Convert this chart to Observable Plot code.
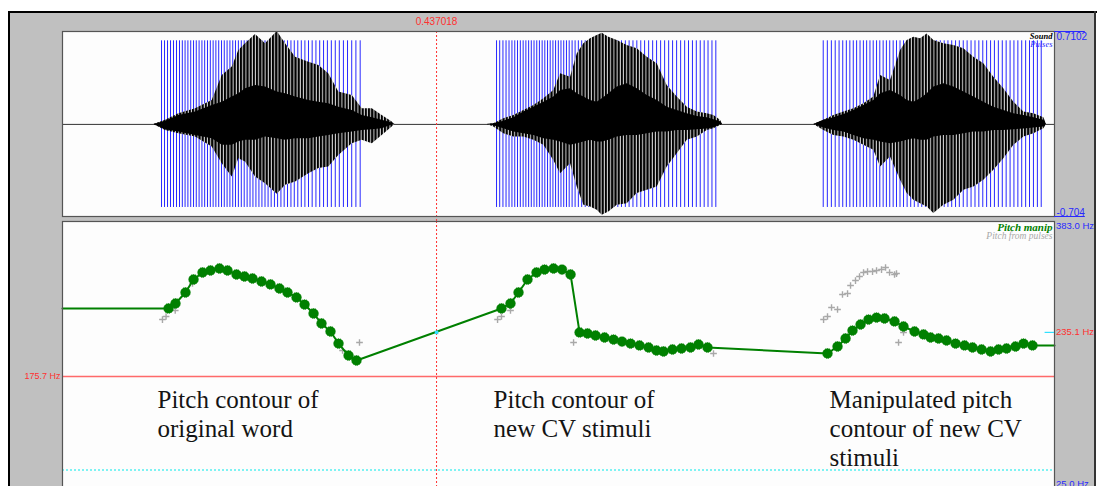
<!DOCTYPE html>
<html><head><meta charset="utf-8">
<script src="https://cdn.jsdelivr.net/npm/d3@7"></script>
<script src="https://cdn.jsdelivr.net/npm/@observablehq/plot@0.6"></script>
<style>
html,body{margin:0;padding:0;background:#fff;overflow:hidden;}
#wrap{position:relative;width:1097px;height:486px;overflow:hidden;background:#fff;}
.blk{position:absolute;background:#000;}
#gray{position:absolute;left:10px;top:13px;width:1084px;height:473px;background:#c0c0c0;}
#top,#bot{position:absolute;left:0;}
#top{top:0px;}
#bot{top:216px;}
</style></head><body>
<svg width="0" height="0" style="position:absolute"><defs>
<pattern id="spikes" patternUnits="userSpaceOnUse" width="3.2" height="8">
<rect width="3.2" height="8" fill="#dcdcdc"/><rect width="2.2" height="8" fill="#000"/>
</pattern></defs></svg>
<div id="wrap">
 <div id="gray"></div>
 <div class="blk" style="left:8px;top:11px;width:1089px;height:2px"></div>
 <div class="blk" style="left:8px;top:11px;width:2px;height:475px"></div>
 <div class="blk" style="left:1094px;top:11px;width:2px;height:475px;background:#333"></div>
 <div id="top"></div><div id="bot"></div>
</div>
<script>
// ---------- data ----------
const timeDomainMs = [0, 1159];
const ampDomain = [-0.704, 0.7102];
const ampLabels = ["-0.704", "0.7102"];
const pitchDomainHz = [25, 383];
const pitchLabels = ["25.0 Hz", "383.0 Hz"];
const cursorTimeMs = 437.018;
const cursorLabel = "0.437018";
const cursorPitchHz = 235.1;
const cursorPitchLabel = "235.1 Hz";
const referenceHz = 175.7;
const referenceLabel = "175.7 Hz";
const floorHz = 50;

// glottal pulses (ms)
const pulses1 = [115.7,119.2,122.7,126.2,129.7,133.2,136.7,140.0,143.2,146.5,149.8,153.1,156.3,159.6,162.9,166.1,169.4,172.7,176.0,179.2,182.5,185.8,189.0,192.3,195.6,198.9,202.1,205.5,208.9,212.3,215.7,219.1,222.5,226.0,229.5,233.0,236.6,240.2,243.8,247.6,251.3,255.2,259.0,262.9,266.9,270.8,274.9,279.0,283.2,287.4,291.7,296.1,300.5,305.0,309.5,314.1,318.7,323.4,328.2,333.0,337.9,342.8,347.8];
const pulses2 = [507.1,510.8,514.6,518.2,521.7,525.1,528.4,531.6,534.9,538.2,541.4,544.6,547.7,550.9,554.1,557.2,560.4,563.5,566.7,569.8,573.0,576.1,579.3,582.4,585.6,588.8,592.0,595.4,598.9,602.7,606.6,610.7,614.8,619.0,623.2,627.4,631.6,635.8,640.2,644.5,648.8,653.1,657.6,662.0,666.5,671.0,675.6,680.1,684.8,689.5,694.1,698.8,703.5,708.2,712.8,717.5,722.2,726.9,731.4,736.0,740.5,745.1,749.7,754.2,758.8,763.3];
const pulses3 = [888.8,893.6,898.3,902.8,907.3,911.6,915.8,919.9,923.9,927.8,931.8,935.7,939.5,943.4,947.2,951.1,954.9,958.8,962.6,966.5,970.5,974.4,978.5,982.6,986.8,991.0,995.2,999.6,1003.9,1008.2,1012.5,1016.9,1021.2,1025.6,1030.1,1034.5,1038.9,1043.4,1047.8,1052.4,1056.9,1061.5,1066.1,1070.6,1075.2,1079.7,1084.3,1088.8,1093.4,1098.0,1102.5,1107.1,1111.6,1116.2,1120.7,1125.3,1129.8,1134.4,1139.0,1143.5];

// waveform envelopes (time ms, amplitude)
const wave1Time    = [106.7,120.3,135.9,155.4,174.9,186.6,198.3,206.0,213.8,225.5,237.2,250.9,260.6,272.3,287.8,299.5,311.1,322.8,338.5,350.2,361.9,373.5,385.2,388.3];
const wave1Max     = [0,0.031,0.081,0.120,0.183,0.374,0.438,0.565,0.616,0.687,0.616,0.710,0.616,0.514,0.476,0.450,0.387,0.247,0.221,0.120,0.120,0.069,0.018,0];
const wave1Min     = [0,-0.046,-0.071,-0.097,-0.173,-0.300,-0.402,-0.262,-0.288,-0.402,-0.453,-0.534,-0.466,-0.440,-0.377,-0.338,-0.326,-0.237,-0.148,-0.122,-0.148,-0.084,-0.020,0];
const wave1CoreMax = [0,0.025,0.069,0.094,0.145,0.170,0.209,0.234,0.272,0.298,0.285,0.247,0.234,0.209,0.183,0.170,0.158,0.132,0.107,0.069,0.051,0.031,0.010,0];
const wave1CoreMin = [0,-0.041,-0.059,-0.084,-0.109,-0.160,-0.160,-0.135,-0.122,-0.122,-0.097,-0.109,-0.122,-0.109,-0.109,-0.097,-0.084,-0.071,-0.059,-0.046,-0.041,-0.033,-0.005,0];

const wave2Time    = [496.2,503.9,515.6,527.3,539.0,550.7,562.4,574.0,581.9,593.6,601.4,609.1,616.9,624.7,630.6,638.3,648.1,659.8,671.5,683.2,694.8,706.5,718.2,729.9,741.6,753.3,761.0,768.8,771.1];
const wave2Max     = [0,0.005,0.043,0.069,0.107,0.145,0.196,0.260,0.387,0.361,0.539,0.616,0.654,0.679,0.697,0.667,0.641,0.603,0.578,0.514,0.463,0.298,0.209,0.132,0.094,0.081,0.069,0.031,0];
const wave2Min     = [0,-0.020,-0.071,-0.097,-0.097,-0.122,-0.160,-0.275,-0.377,-0.300,-0.478,-0.618,-0.631,-0.656,-0.695,-0.669,-0.618,-0.606,-0.529,-0.504,-0.478,-0.326,-0.224,-0.122,-0.097,-0.046,-0.033,-0.008,0];
const wave2CoreMax = [0,0.005,0.025,0.051,0.094,0.132,0.170,0.209,0.260,0.272,0.234,0.209,0.183,0.170,0.196,0.234,0.285,0.310,0.272,0.221,0.183,0.132,0.107,0.081,0.061,0.051,0.036,0.020,0];
const wave2CoreMin = [0,-0.010,-0.033,-0.059,-0.071,-0.084,-0.109,-0.122,-0.135,-0.160,-0.148,-0.135,-0.122,-0.135,-0.135,-0.122,-0.097,-0.084,-0.084,-0.071,-0.059,-0.059,-0.046,-0.046,-0.041,-0.036,-0.025,-0.005,0];

const wave3Time    = [877.8,889.5,901.2,912.9,924.6,936.3,947.9,955.8,967.4,979.1,986.9,994.7,1002.5,1010.3,1018.0,1029.7,1041.4,1053.1,1064.8,1076.4,1088.1,1099.8,1111.5,1123.2,1134.9,1146.6,1149.7];
const wave3Max     = [0,0.031,0.069,0.094,0.120,0.158,0.209,0.374,0.336,0.565,0.641,0.667,0.654,0.692,0.641,0.616,0.603,0.578,0.514,0.463,0.361,0.272,0.170,0.094,0.081,0.051,0];
const wave3Min     = [0,-0.046,-0.084,-0.097,-0.122,-0.160,-0.198,-0.326,-0.249,-0.427,-0.529,-0.580,-0.606,-0.631,-0.682,-0.618,-0.580,-0.504,-0.478,-0.427,-0.351,-0.262,-0.160,-0.097,-0.071,-0.033,0];
const wave3CoreMax = [0,0.031,0.051,0.076,0.107,0.145,0.183,0.234,0.260,0.221,0.183,0.170,0.196,0.234,0.285,0.310,0.285,0.247,0.209,0.170,0.132,0.107,0.081,0.069,0.051,0.031,0];
const wave3CoreMin = [0,-0.028,-0.046,-0.059,-0.084,-0.109,-0.122,-0.135,-0.148,-0.135,-0.122,-0.109,-0.122,-0.122,-0.097,-0.084,-0.084,-0.071,-0.059,-0.059,-0.046,-0.046,-0.041,-0.036,-0.028,-0.020,0];

// pitch manipulation points (ms, Hz)
const manipTime = [123.9,132.0,143.7,153.1,163.6,172.9,183.4,192.8,203.3,212.6,222.0,232.5,243.0,253.5,262.9,273.4,282.8,293.3,302.6,313.1,322.5,334.2,343.5,
  512.9,523.4,532.8,543.3,553.8,563.2,573.7,583.6,593.6,604.1,613.4,622.8,633.3,643.8,653.7,663.7,674.2,684.7,694.0,702.2,712.7,723.2,733.8,743.1,753.6,
  893.8,905.5,914.9,923.0,932.4,941.7,951.1,960.4,972.1,982.6,995.5,1006.0,1014.2,1023.5,1032.9,1043.4,1053.9,1063.2,1073.8,1084.3,1093.6,1103.0,1113.5,1122.8,1133.3];
const manipHz = [267.3,274.0,288.8,306.3,315.7,318.4,321.1,318.4,313.0,310.3,307.6,303.6,299.6,294.2,288.8,282.1,272.6,260.5,247.1,236.3,220.1,204.0,197.3,
  267.3,274.0,288.8,306.3,315.7,319.7,321.1,319.7,313.0,235.0,233.6,230.9,228.2,225.5,222.8,220.1,217.5,214.8,210.7,209.4,212.1,213.4,214.8,218.8,214.8,
  206.7,216.1,226.9,237.6,245.7,252.4,255.1,253.8,249.8,243.0,236.3,232.3,228.2,226.9,224.2,220.1,217.5,214.8,212.1,209.4,212.1,213.4,216.1,220.1,217.5];

// pitch from pulses (visible points)
const pulsePitchTime = [116.8,121.0,131.7,151.9,327.2,347.0,508.3,512.9,523.4,597.1,760.6,
  889.2,893.8,898.5,905.5,911.3,917.2,920.7,926.5,931.2,935.9,940.6,946.4,951.1,956.9,961.6,966.3,972.1,974.4,976.8,982.6];
const pulsePitchHz = [252.4,256.5,264.6,300.9,210.7,221.5,252.4,256.5,264.6,221.5,206.7,
  252.4,256.5,268.6,265.9,286.1,287.4,298.2,304.9,310.3,315.7,317.0,317.0,318.4,319.7,322.4,315.7,313.0,314.3,221.5,235.0];

// annotations
const annoTime = [111.0, 503.6, 896.2];
const annoText = ["Pitch contour of\noriginal word", "Pitch contour of\nnew CV stimuli", "Manipulated pitch\ncontour of new CV\nstimuli"];

// ---------- build ----------
const waveGroups = [
  [wave1Time, wave1Max, wave1Min, wave1CoreMax, wave1CoreMin],
  [wave2Time, wave2Max, wave2Min, wave2CoreMax, wave2CoreMin],
  [wave3Time, wave3Max, wave3Min, wave3CoreMax, wave3CoreMin]
];
const waveRows = [];
waveGroups.forEach((g, gi) => g[0].forEach((t, i) => waveRows.push({seg: gi, t, max: g[1][i], min: g[2][i], cmax: g[3][i], cmin: g[4][i]})));
const pulses = pulses1.concat(pulses2, pulses3);
const manip = manipTime.map((t, i) => ({t, f: manipHz[i]}));
const manipLine = [{t: timeDomainMs[0], f: manipHz[0]}, ...manip, {t: timeDomainMs[1], f: manipHz[manipHz.length - 1]}];
const pulsePitch = pulsePitchTime.map((t, i) => ({t, f: pulsePitchHz[i]}));
const annos = annoTime.map((t, i) => ({t, text: annoText[i]}));

const SANS = "Liberation Sans, Arial, sans-serif";
const SERIF = "Liberation Serif, Times New Roman, serif";
const RED = "#ff3030";
const BLUE = "#2828ff";
const GREEN = "#008000";
const xEnd = timeDomainMs[1];
const markLen = 36;

const topPlot = Plot.plot({
  width: 1097, height: 221,
  marginLeft: 62, marginRight: 43, marginTop: 31, marginBottom: 5,
  style: "background: transparent; overflow: visible;",
  x: {domain: timeDomainMs, axis: null},
  y: {domain: ampDomain, axis: null},
  marks: [
    Plot.frame({fill: "#fdfdfd"}),
    Plot.ruleY([0], {stroke: "#333", strokeWidth: 1}),
    Plot.ruleX(pulses, {y1: -0.635, y2: 0.639, stroke: BLUE, strokeWidth: 1}),
    Plot.areaY(waveRows, {x: "t", y1: "min", y2: "max", z: "seg", fill: "url(#spikes)"}),
    Plot.areaY(waveRows, {x: "t", y1: "cmin", y2: "cmax", z: "seg", fill: "#000"}),
    Plot.ruleX([cursorTimeMs], {y1: ampDomain[1], y2: -0.745, stroke: RED, strokeDasharray: "2,2"}),
    Plot.text([cursorLabel], {x: cursorTimeMs, frameAnchor: "top", dy: -7, lineAnchor: "bottom", fill: RED, fontSize: 10, fontFamily: SANS}),
    Plot.frame({stroke: "#555", strokeWidth: 1.2}),
    Plot.ruleY(ampDomain, {x1: xEnd, x2: xEnd + markLen, stroke: BLUE, strokeWidth: 1}),
    Plot.text([ampDomain[1]], {x: xEnd, y: d => d, text: () => ampLabels[1], textAnchor: "start", lineAnchor: "top", dx: 2, dy: 1, fill: BLUE, fontSize: 10, fontFamily: SANS}),
    Plot.text([ampDomain[0]], {x: xEnd, y: d => d, text: () => ampLabels[0], textAnchor: "start", lineAnchor: "bottom", dx: 2, dy: -1, fill: BLUE, fontSize: 10, fontFamily: SANS}),
    Plot.text(["Sound"], {frameAnchor: "top-right", lineAnchor: "middle", dx: -2, dy: 5, fill: "#000", fontSize: 8.5, fontStyle: "italic", fontWeight: "bold", fontFamily: SERIF}),
    Plot.text(["Pulses"], {frameAnchor: "top-right", lineAnchor: "middle", dx: -2, dy: 13, fill: BLUE, fontSize: 8.5, fontStyle: "italic", fontFamily: SERIF})
  ]
});
document.getElementById("top").appendChild(topPlot);

const botPlot = Plot.plot({
  width: 1097, height: 272,
  marginLeft: 62, marginRight: 43, marginTop: 6, marginBottom: 0,
  style: "background: transparent; overflow: visible;",
  x: {domain: timeDomainMs, axis: null},
  y: {domain: pitchDomainHz, axis: null},
  marks: [
    Plot.frame({fill: "#fdfdfd", insetTop: -1}),
    Plot.ruleY([floorHz], {stroke: "#55f0f0", strokeDasharray: "2,2", strokeWidth: 1.5}),
    Plot.ruleY([referenceHz], {stroke: "#ff6a6a", strokeWidth: 1.5}),
    Plot.ruleX([cursorTimeMs], {stroke: RED, strokeDasharray: "2,2", insetTop: -1}),
    Plot.dot(pulsePitch, {x: "t", y: "f", symbol: "plus", r: 2.3, stroke: "#a8a8a8", strokeWidth: 1.4}),
    Plot.line(manipLine, {x: "t", y: "f", stroke: GREEN, strokeWidth: 2}),
    Plot.dot(manip, {x: "t", y: "f", r: 4.9, fill: GREEN, stroke: GREEN, strokeWidth: 0.8, strokeDasharray: "1,1"}),
    Plot.dot([cursorPitchHz], {x: cursorTimeMs, y: d => d, symbol: "square", r: 2, fill: "#30e0ff"}),
    Plot.text(annos, {x: "t", y: 161, text: "text", textAnchor: "start", lineAnchor: "top", lineHeight: 1.16, fontSize: 25, fontFamily: SERIF, fill: "#141414"}),
    Plot.frame({stroke: "#555", strokeWidth: 1.2, insetTop: -1}),
    Plot.text([referenceHz], {x: timeDomainMs[0], y: d => d, text: () => referenceLabel, textAnchor: "end", dx: -2, fill: RED, fontSize: 9, fontFamily: SANS}),
    Plot.text([pitchDomainHz[1]], {x: xEnd, y: d => d, text: () => pitchLabels[1], textAnchor: "start", lineAnchor: "top", dx: 1.5, dy: 0, fill: BLUE, fontSize: 9.5, fontFamily: SANS}),
    Plot.text([pitchDomainHz[0]], {x: xEnd, y: d => d, text: () => pitchLabels[0], textAnchor: "start", lineAnchor: "bottom", dx: 1.5, dy: -2, fill: BLUE, fontSize: 9.5, fontFamily: SANS}),
    Plot.ruleY([cursorPitchHz], {x1: xEnd - 11, x2: xEnd, stroke: "#30e0ff", strokeWidth: 1.2}),
    Plot.text([cursorPitchHz], {x: xEnd, y: d => d, text: () => cursorPitchLabel, textAnchor: "start", dx: 1.5, fill: RED, fontSize: 9.5, fontFamily: SANS}),
    Plot.text(["Pitch manip"], {frameAnchor: "top-right", lineAnchor: "middle", dx: -2, dy: 5, fill: GREEN, fontSize: 11, fontStyle: "italic", fontWeight: "bold", fontFamily: SERIF}),
    Plot.text(["Pitch from pulses"], {frameAnchor: "top-right", lineAnchor: "middle", dx: -2, dy: 13.5, fill: "#a8a8a8", fontSize: 9.5, fontStyle: "italic", fontFamily: SERIF})
  ]
});
document.getElementById("bot").appendChild(botPlot);
</script>
</body></html>
